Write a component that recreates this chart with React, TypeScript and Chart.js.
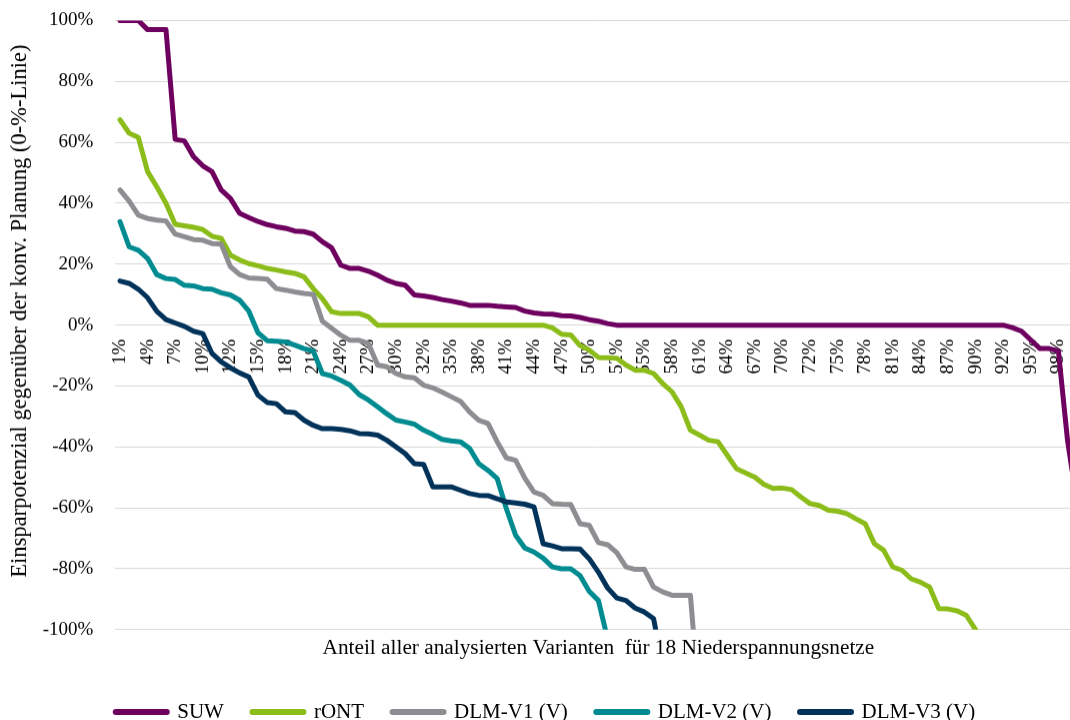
import { useEffect, useRef } from "react";
import { Chart, registerables } from "chart.js";

Chart.register(...registerables);

const CATEGORIES = [
  "1%", "2%", "3%", "4%", "5%", "6%", "7%", "8%", "9%", "10%",
  "10%", "11%", "12%", "13%", "14%", "15%", "16%", "17%", "18%", "19%",
  "20%", "21%", "22%", "23%", "24%", "25%", "26%", "27%", "28%", "29%",
  "30%", "30%", "31%", "32%", "33%", "34%", "35%", "36%", "37%", "38%",
  "39%", "40%", "41%", "42%", "43%", "44%", "45%", "46%", "47%", "48%",
  "49%", "50%", "50%", "51%", "52%", "53%", "54%", "55%", "56%", "57%",
  "58%", "59%", "60%", "61%", "62%", "63%", "64%", "65%", "66%", "67%",
  "68%", "69%", "70%", "70%", "71%", "72%", "73%", "74%", "75%", "76%",
  "77%", "78%", "79%", "80%", "81%", "82%", "83%", "84%", "85%", "86%",
  "87%", "88%", "89%", "90%", "90%", "91%", "92%", "93%", "94%", "95%",
  "96%", "97%", "98%", "99%", "100%",
];

const SUW = [
  100, 100, 100, 97, 97, 97, 61, 60.5, 55.3, 52.3,
  50.4, 44.4, 41.6, 36.7, 35.3, 34, 33, 32.3, 31.8, 30.9,
  30.7, 29.9, 27.4, 25.4, 19.7, 18.6, 18.6, 17.7, 16.4, 14.8,
  13.7, 13.1, 9.9, 9.6, 9.1, 8.4, 7.9, 7.3, 6.5, 6.5,
  6.5, 6.2, 6.0, 5.8, 4.6, 4.0, 3.7, 3.6, 3.1, 3.0,
  2.5, 1.8, 1.3, 0.5, 0, 0, 0, 0, 0, 0,
  0, 0, 0, 0, 0, 0, 0, 0, 0, 0,
  0, 0, 0, 0, 0, 0, 0, 0, 0, 0,
  0, 0, 0, 0, 0, 0, 0, 0, 0, 0,
  0, 0, 0, 0, 0, 0, 0, -0.8, -2.0, -4.9,
  -7.7, -7.7, -8.5, -38, -58,
];

const RONT = [
  67.4, 63.0, 61.6, 50.4, 45.4, 40.0, 33.1, 32.6, 32.1, 31.4,
  29.2, 28.5, 23.0, 21.4, 20.2, 19.5, 18.6, 18.1, 17.5, 17.0,
  15.9, 12.0, 8.7, 4.4, 3.8, 3.8, 3.8, 2.7, 0, 0,
  0, 0, 0, 0, 0, 0, 0, 0, 0, 0,
  0, 0, 0, 0, 0, 0, 0, -0.9, -3.0, -3.2,
  -6.7, -8.2, -10.6, -10.7, -10.9, -13.1, -14.8, -14.8, -15.9, -19.2,
  -21.9, -26.8, -34.5, -36.1, -37.8, -38.3, -42.7, -47.1, -48.5, -49.9,
  -52.3, -53.6, -53.5, -54.0, -56.4, -58.6, -59.2, -60.8, -61.1, -61.9,
  -63.6, -65.2, -71.8, -73.9, -79.4, -80.5, -83.3, -84.4, -86.0, -93.1,
  -93.2, -93.8, -95.3, -100, -104, -108,
];

const DLM_V1 = [
  44.4, 40.7, 36.1, 35.0, 34.5, 34.2, 29.9, 29.0, 28.1, 27.9,
  26.8, 26.6, 19.2, 16.6, 15.5, 15.3, 15.1, 12.0, 11.5, 10.9,
  10.4, 10.1, 1.3, -1.0, -3.3, -5.0, -5.0, -6.0, -13.1, -13.7,
  -15.9, -17.0, -17.3, -19.7, -20.6, -22.0, -23.5, -25.0, -28.5, -31.2,
  -32.3, -38.3, -43.6, -44.4, -50.2, -54.8, -55.9, -58.6, -58.8, -58.9,
  -65.2, -65.7, -71.4, -72.1, -74.7, -79.4, -80.2, -80.2, -86.0, -87.6,
  -88.7, -88.7, -88.7, -125,
];

const DLM_V2 = [
  34.0, 25.7, 24.6, 21.9, 16.6, 15.3, 15.0, 13.1, 12.9, 12.0,
  11.8, 10.6, 9.9, 8.2, 4.6, -2.5, -5.1, -5.3, -5.5, -6.6,
  -7.7, -8.5, -15.9, -16.7, -18.1, -19.7, -22.8, -24.6, -26.8, -29.1,
  -31.2, -31.8, -32.5, -34.5, -35.9, -37.5, -38.0, -38.3, -40.5, -45.5,
  -47.7, -50.4, -60.3, -69.0, -73.2, -74.5, -76.5, -79.4, -80.0, -80.0,
  -82.2, -87.4, -90.4, -103,
];

const DLM_V3 = [
  14.5, 13.7, 11.8, 9.0, 4.5, 1.8, 0.7, -0.4, -2.0, -2.8,
  -9.3, -12.1, -14.0, -15.7, -17.0, -23.0, -25.4, -25.8, -28.5, -28.7,
  -31.2, -32.9, -34.0, -34.0, -34.2, -34.7, -35.6, -35.7, -36.1, -37.8,
  -40.0, -42.2, -45.5, -45.7, -53.1, -53.1, -53.1, -54.2, -55.3, -55.9,
  -56.0, -57.0, -58.1, -58.4, -58.8, -59.7, -71.8, -72.5, -73.4, -73.4,
  -73.5, -76.7, -81.1, -86.3, -89.6, -90.4, -92.9, -94.2, -96.4, -112,
];

const SERIES_NAMES = ["SUW", "rONT", "DLM-V1 (V)", "DLM-V2 (V)", "DLM-V3 (V)"];
const SERIES_COLORS = ["#6E005F", "#8CBC19", "#8D8D92", "#008B91", "#00325A"];
const SERIES_DATA = [SUW, RONT, DLM_V1, DLM_V2, DLM_V3];

// leading no-break spaces nudge the rotated title upwards, as in the original
const Y_TITLE =
  "\u00A0\u00A0\u00A0\u00A0\u00A0Einsparpotenzial gegenüber der konv. Planung (0-%-Linie)";
const X_TITLE = "Anteil aller analysierten Varianten  für 18 Niederspannungsnetze";

const FONT = "'Liberation Serif', 'Times New Roman', serif";

export default function App() {
  const canvasRef = useRef<HTMLCanvasElement | null>(null);

  useEffect(() => {
    if (!canvasRef.current) return;
    const chart = new Chart(canvasRef.current, {
      type: "line",
      data: {
        labels: CATEGORIES,
        datasets: SERIES_DATA.map((d, i) => ({
          label: SERIES_NAMES[i],
          data: d,
          borderColor: SERIES_COLORS[i],
          backgroundColor: SERIES_COLORS[i],
          borderWidth: 5,
          pointRadius: 0,
          pointHoverRadius: 0,
          tension: 0,
          fill: false,
          borderJoinStyle: "round" as const,
          borderCapStyle: "round" as const,
          order: SERIES_DATA.length - i,
        })),
      },
      options: {
        animation: false,
        responsive: true,
        maintainAspectRatio: false,
        events: [],
        layout: { padding: { top: 20.5, right: 0, left: 0, bottom: 0 } },
        scales: {
          x: {
            type: "category",
            position: { y: 0 } as any,
            offset: true,
            grid: { display: false, drawTicks: false },
            border: { display: false },
            ticks: {
              autoSkip: false,
              minRotation: 90,
              maxRotation: 90,
              padding: 14,
              color: "#000",
              font: { family: FONT, size: 19 },
              callback: function (this: any, value: any, index: number) {
                return index % 3 === 0 ? CATEGORIES[index] : "";
              },
            },
            afterFit: (scale: any) => {
              scale.paddingLeft = 0;
              scale.paddingRight = 9.6;
            },
          },
          x2: {
            type: "category",
            position: "bottom",
            labels: CATEGORIES,
            offset: true,
            grid: { display: false, drawTicks: false },
            border: { display: false },
            ticks: { display: false },
            title: {
              display: true,
              text: X_TITLE,
              color: "#000",
              font: { family: FONT, size: 21.3 },
              padding: { top: 0, bottom: 11.7 },
            },
            afterFit: (scale: any) => {
              scale.height = 43.2;
              scale.paddingLeft = 0;
              scale.paddingRight = 0;
            },
          },
          y: {
            min: -100,
            max: 100,
            grid: { color: "#d9d9d9", lineWidth: 1, drawTicks: false },
            border: { display: false },
            ticks: {
              stepSize: 20,
              padding: 22,
              color: "#000",
              font: { family: FONT, size: 19 },
              callback: (v: any) => `${v}%`,
            },
            title: {
              display: true,
              text: Y_TITLE,
              color: "#000",
              font: { family: FONT, size: 22.5 },
              padding: { top: 6.5, bottom: 0 },
            },
            afterFit: (scale: any) => {
              scale.width = 115.4;
              scale.paddingTop = 0;
              scale.paddingBottom = 0;
            },
          },
        },
        plugins: {
          tooltip: { enabled: false },
          legend: {
            display: true,
            position: "bottom",
            labels: {
              usePointStyle: true,
              pointStyleWidth: 51,
              padding: 28.5,
              color: "#000",
              font: { family: FONT, size: 21 },
              generateLabels: () =>
                SERIES_NAMES.map((name, i) => ({
                  text: name,
                  fillStyle: SERIES_COLORS[i],
                  strokeStyle: SERIES_COLORS[i],
                  lineWidth: 6,
                  lineCap: "round" as const,
                  pointStyle: "line" as const,
                  hidden: false,
                  datasetIndex: i,
                  fontColor: "#000",
                })),
            },
          },
        },
      } as any,
    });
    return () => chart.destroy();
  }, []);

  return (
    <div
      style={{
        position: "absolute",
        left: 0,
        top: 0,
        width: 1070,
        height: 720,
        overflow: "hidden",
        background: "#fff",
      }}
    >
      <div style={{ position: "relative", width: 1091, height: 731.5 }}>
        <canvas ref={canvasRef} />
      </div>
    </div>
  );
}
